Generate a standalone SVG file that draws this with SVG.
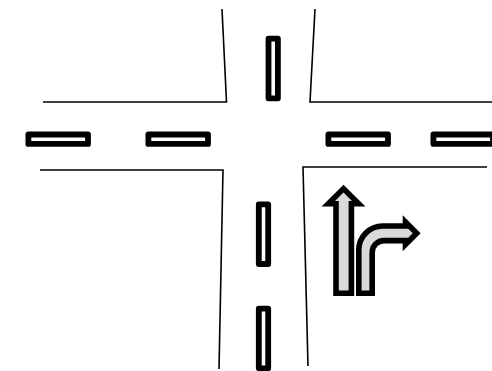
<svg xmlns="http://www.w3.org/2000/svg" width="492" height="371" viewBox="0 0 492 371">
<defs>
<style>
.road{fill:none;stroke:#000;stroke-width:1.6}
.dash{fill:#fff;stroke:#000;stroke-width:5.8;stroke-linejoin:round}
.arrow{fill:#d9d9d9;stroke:#000;stroke-width:5.6;stroke-linejoin:miter;stroke-miterlimit:10}
</style>
</defs>
<rect width="492" height="371" fill="#fff"/>
<g id="kerbs">
<path class="road" d="M222 9L226.5 102H43"/>
<path class="road" d="M315 9L310 102H492"/>
<path class="road" d="M40 170H223L219 369"/>
<path class="road" d="M487 167H303L308 366"/>
</g>
<g id="lane-markings">
<rect class="dash" x="28.4" y="134.5" width="59.6" height="9.4"/>
<rect class="dash" x="148.4" y="134.5" width="59.6" height="9.4"/>
<rect class="dash" x="328.4" y="134.5" width="59.6" height="9.4"/>
<rect class="dash" x="433.4" y="134.5" width="59.6" height="9.4"/>
<rect class="dash" x="268.5" y="38.7" width="9.4" height="59.6"/>
<rect class="dash" x="258.8" y="204.4" width="9.4" height="59.6"/>
<rect class="dash" x="258.8" y="308.7" width="9.4" height="59.6"/>
</g>
<g id="straight-arrow">
<path class="arrow" d="M336 293.2V203.8H328.3L343.5 188.6L358.7 203.8H351.4V293.2Z"/>
</g>
<g id="turn-arrow">
<path class="arrow" d="M358.8 293.2V250A24 24 0 0 1 382.8 226H405.5V222L416.7 233.2L405.5 244.5V240.6H384A11.8 11.8 0 0 0 372.2 252.4V293.2Z"/>
</g>
</svg>
